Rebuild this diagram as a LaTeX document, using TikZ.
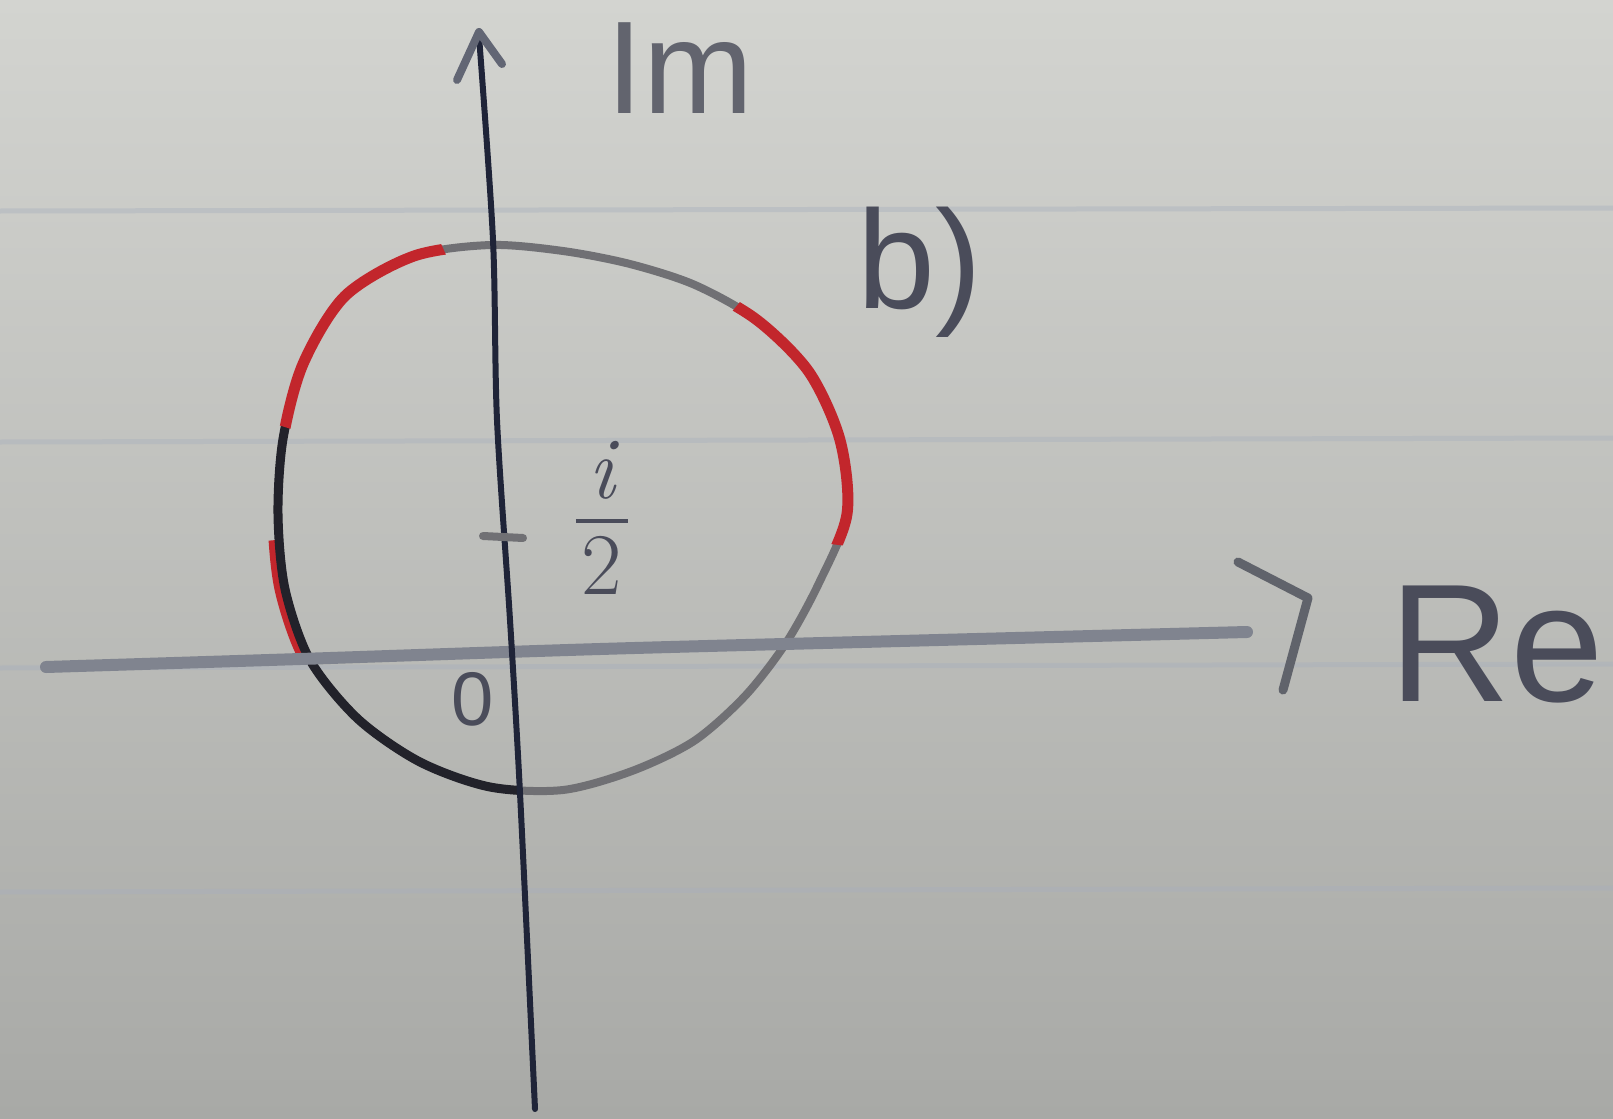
\documentclass[tikz,border=0pt]{standalone}
\usepackage{fontspec}
\setmainfont{Liberation Sans}
\newfontfamily\lmfrac{Latin Modern Roman}
\definecolor{paperT}{HTML}{D3D4D0}
\definecolor{paperB}{HTML}{A8A9A6}
\definecolor{rulecol}{HTML}{A7AFBD}
\definecolor{inkblue}{HTML}{1F2438}
\definecolor{pencil}{HTML}{80848F}
\definecolor{circgrey}{HTML}{707074}
\definecolor{circdark}{HTML}{22222A}
\definecolor{redpen}{HTML}{C2262C}
\definecolor{textgrey}{HTML}{4A4C5A}
\definecolor{textlight}{HTML}{62646E}
\begin{document}
\begin{tikzpicture}[x=0.5pt,y=-0.5pt,
  pen/.style={line cap=round,line join=round},
  ruleline/.style={draw=rulecol,line width=2.5pt,opacity=0.4},
  vaxis/.style={pen,draw=inkblue,line width=3pt},
  haxis/.style={pen,draw=pencil,line width=6pt},
  tipstroke/.style={pen,line width=4.5pt},
  circstroke/.style={pen,line width=4pt},
  redstroke/.style={pen,draw=redpen,line width=5.5pt},
  hand/.style={inner sep=0pt}]
\shade[top color=paperT,bottom color=paperB] (0,0) rectangle (1613,1119);
\useasboundingbox (0,0) rectangle (1613,1119);
% ruled paper lines
\draw[ruleline] (0,211) -- (1613,208);
\draw[ruleline] (0,442) -- (1613,438);
\draw[ruleline] (0,668) -- (1613,664);
\draw[ruleline] (0,892) -- (1613,888);
% circle: grey base
\draw[circstroke,draw=circgrey] plot[smooth cycle] coordinates {
 (847,514) (840,440) (809,372) (757,320) (695,285) (630,264) (563,251) (491,245)
 (414,256) (345,296) (303,364) (283,439) (278,514) (285,589) (310,660) (358,719)
 (420,762) (490,787) (563,790) (632,771) (694,741) (745,696) (786,643) (819,583)};
% red on the outside of the lower-left arc
\begin{scope}
 \clip (563,514) -- (0,565) -- (0,832) -- cycle;
 \draw[redstroke,xshift=-2.5pt] plot[smooth cycle] coordinates {
 (847,514) (840,440) (809,372) (757,320) (695,285) (630,264) (563,251) (491,245)
 (414,256) (345,296) (303,364) (283,439) (278,514) (285,589) (310,660) (358,719)
 (420,762) (490,787) (563,790) (632,771) (694,741) (745,696) (786,643) (819,583)};
\end{scope}
% dark left / bottom part
\begin{scope}
 \clip (563,514) -- (30,245) -- (30,930) -- (500,930) -- cycle;
 \draw[circstroke,draw=circdark,line width=4.5pt] plot[smooth cycle] coordinates {
 (847,514) (840,440) (809,372) (757,320) (695,285) (630,264) (563,251) (491,245)
 (414,256) (345,296) (303,364) (283,439) (278,514) (285,589) (310,660) (358,719)
 (420,762) (490,787) (563,790) (632,771) (694,741) (745,696) (786,643) (819,583)};
\end{scope}
% red upper-left
\begin{scope}
 \clip (563,514) -- (0,338) -- (0,0) -- (331,0) -- cycle;
 \draw[redstroke] plot[smooth cycle] coordinates {
 (847,514) (840,440) (809,372) (757,320) (695,285) (630,264) (563,251) (491,245)
 (414,256) (345,296) (303,364) (283,439) (278,514) (285,589) (310,660) (358,719)
 (420,762) (490,787) (563,790) (632,771) (694,741) (745,696) (786,643) (819,583)};
\end{scope}
% red upper-right
\begin{scope}
 \clip (563,514) -- (992,0) -- (1613,0) -- (1613,632) -- cycle;
 \draw[redstroke] plot[smooth cycle] coordinates {
 (847,514) (840,440) (809,372) (757,320) (695,285) (630,264) (563,251) (491,245)
 (414,256) (345,296) (303,364) (283,439) (278,514) (285,589) (310,660) (358,719)
 (420,762) (490,787) (563,790) (632,771) (694,741) (745,696) (786,643) (819,583)};
\end{scope}
% horizontal axis
\coordinate (hstart) at (46,667);
\coordinate (hend) at (1247,632);
\draw[haxis] plot[smooth] coordinates {(hstart) (300,659) (600,649) (900,641) (hend)};
\draw[tipstroke,draw=pencil!75!black] (1238,562) -- (1308,598) -- (1283,690);
% vertical axis
\coordinate (vtop) at (479,36);
\coordinate (vbot) at (535,1109);
\draw[vaxis] plot[smooth] coordinates {(vtop) (493,240) (497,420) (510,620) (520,793) (vbot)};
\draw[tipstroke,draw=inkblue!70!white,line width=4pt] (457,80) -- (479,32) -- (502,64);
% tick at i/2
\draw[pen,draw=circgrey,line width=4pt] (483,536) -- (523,538);
% labels
\node[hand,text=textlight,font=\fontsize{66}{66}\selectfont] (im) at (680,68) {Im};
\node[hand,text=textgrey,font=\fontsize{84}{84}\selectfont] (re) at (1497,645) {Re};
\node[hand,text=textgrey,font=\fontsize{70}{70}\selectfont] (b) at (920,272) {b)};
\node[hand,text=textgrey,font=\fontsize{38}{38}\selectfont] (zero) at (473,699) {0};
\node[hand,text=textgrey,font=\lmfrac\fontsize{44}{40}\selectfont] (half) at (602,530)
  {\setlength{\arrayrulewidth}{2pt}\begin{tabular}{@{\hspace{3pt}}c@{\hspace{3pt}}}\itshape i\\[-2pt]\hline\rule{0pt}{0.82em}2\end{tabular}};
\end{tikzpicture}
\end{document}
